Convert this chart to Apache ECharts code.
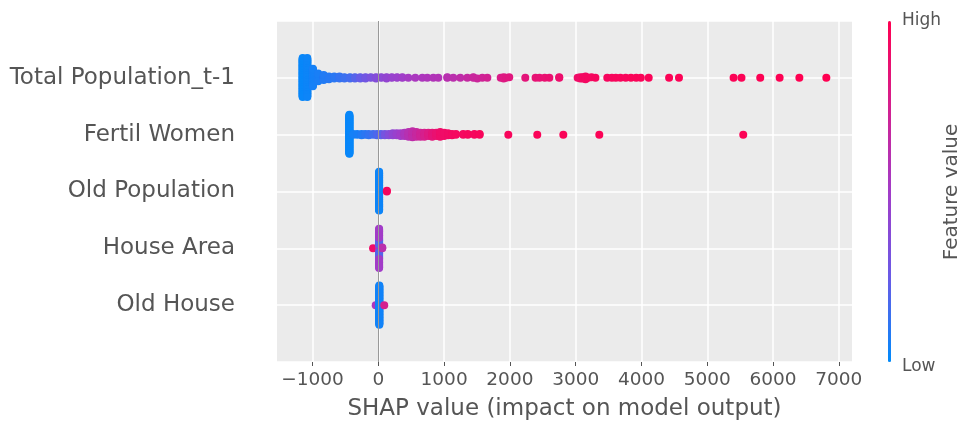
<!DOCTYPE html>
<html>
<head>
<meta charset="utf-8">
<script src="https://cdn.jsdelivr.net/npm/echarts@6/dist/echarts.min.js"></script>
<style>
  html, body { margin: 0; padding: 0; background: #fff; }
  #chart { width: 965px; height: 426px; }
</style>
</head>
<body>
<div id="chart"></div>
<script>
// features from bottom (row 0) to top (row 4)
const features = ['Old House', 'House Area', 'Old Population', 'Fertil Women', 'Total Population_t-1'];
const xTicks = [-1000, 0, 1000, 2000, 3000, 4000, 5000, 6000, 7000];

// each entry: [SHAP value, number of points, feature value 0..1]
const totalPopulation = [
  [-1150, 56, 0.02], [-1080, 56, 0.03], [-995, 26, 0.05], [-915, 12, 0.06],
  [-830, 8, 0.08], [-750, 5, 0.09], [-670, 4, 0.1], [-590, 4, 0.12],
  [-515, 3, 0.14], [-430, 3, 0.16], [-355, 3, 0.2], [-275, 3, 0.24],
  [-195, 3, 0.28], [-115, 2, 0.32], [-35, 3, 0.36], [45, 2, 0.4],
  [125, 3, 0.43], [205, 2, 0.45], [285, 2, 0.47], [365, 2, 0.49],
  [456, 1, 0.52], [562, 1, 0.54], [669, 1, 0.55], [745, 1, 0.56],
  [836, 1, 0.57], [912, 1, 0.58], [1049, 2, 0.61], [1140, 1, 0.62],
  [1246, 1, 0.64], [1353, 1, 0.67], [1444, 2, 0.69], [1505, 1, 0.7],
  [1581, 1, 0.72], [1657, 1, 0.74], [1860, 1, 0.78], [1905, 2, 0.8],
  [1940, 1, 0.81], [1990, 1, 0.82], [2234, 1, 0.84], [2390, 1, 0.86],
  [2450, 1, 0.86], [2530, 1, 0.87], [2600, 1, 0.88], [2750, 2, 0.89],
  [3030, 1, 0.91], [3070, 2, 0.91], [3110, 3, 0.93], [3150, 2, 0.93],
  [3190, 1, 0.94], [3240, 1, 0.94], [3300, 1, 0.95], [3480, 1, 0.95],
  [3550, 1, 0.95], [3610, 1, 0.96], [3680, 1, 0.96], [3760, 1, 0.96],
  [3840, 1, 0.97], [3920, 1, 0.97], [3990, 1, 0.97], [4110, 1, 0.97],
  [4420, 1, 0.98], [4570, 1, 0.98], [5400, 1, 0.98], [5520, 1, 0.98],
  [5805, 1, 0.99], [6100, 1, 0.99], [6400, 1, 1], [6810, 1, 1]
];
const fertilWomen = [
  [-440, 60, 0.02], [-380, 2, 0.05], [-320, 2, 0.06], [-255, 3, 0.08],
  [-200, 2, 0.1], [-145, 3, 0.12], [-80, 2, 0.15], [-20, 3, 0.18],
  [40, 3, 0.22], [100, 3, 0.3], [160, 3, 0.36], [220, 4, 0.42],
  [280, 4, 0.46], [340, 5, 0.5], [400, 6, 0.55], [460, 8, 0.6],
  [520, 10, 0.64], [580, 8, 0.68], [640, 7, 0.72], [700, 7, 0.76],
  [760, 6, 0.8], [820, 7, 0.84], [880, 6, 0.87], [940, 8, 0.9],
  [1000, 6, 0.91], [1060, 4, 0.92], [1120, 3, 0.93], [1180, 2, 0.94],
  [1290, 2, 0.94], [1360, 2, 0.95], [1460, 2, 0.95], [1540, 2, 0.96],
  [1976, 1, 0.96], [2416, 1, 0.97], [2812, 1, 0.97], [3359, 1, 0.98],
  [5547, 1, 0.98]
];
const oldPopulation = [
  [12, 56, 0.03], [130, 2, 0.95]
];
const houseArea = [
  [-80, 1, 0.9], [12, 9, 0.55], [12, 16, 0.2], [12, 24, 0.5], [60, 2, 0.62]
];
const oldHouse = [
  [-40, 1, 0.55], [15, 1, 0.5], [15, 52, 0.04], [90, 1, 0.75]
];
const rows = [oldHouse, houseArea, oldPopulation, fertilWomen, totalPopulation];

// beeswarm layout like shap: 100 bins per row, stack points alternately up/down
function swarm(row, pos) {
  const pts = [];
  row.forEach(function (d) {
    for (let i = 0; i < d[1]; i++) pts.push([d[0], d[2]]);
  });
  const vals = pts.map(p => p[0]);
  const lo = Math.min.apply(null, vals), hi = Math.max.apply(null, vals);
  const quant = pts.map(p => Math.round(100 * (p[0] - lo) / (hi - lo + 1e-8)));
  const order = pts.map((p, i) => i).sort((a, b) => quant[a] - quant[b] || a - b);
  const ys = new Array(pts.length).fill(0);
  let layer = 0, lastBin = -1;
  order.forEach(function (i) {
    if (quant[i] !== lastBin) layer = 0;
    ys[i] = Math.ceil(layer / 2) * ((layer % 2) * 2 - 1);
    layer++;
    lastBin = quant[i];
  });
  const top = Math.max.apply(null, ys.map(y => y + 1));
  return pts.map((p, i) => [p[0], pos + ys[i] * 0.9 * 0.4 / top, p[1]]);
}

let points = [];
rows.forEach(function (row, pos) { points = points.concat(swarm(row, pos)); });

const textColor = '#555555';
const chart = echarts.init(document.getElementById('chart'), null, { renderer: 'canvas' });
chart.setOption({
  animation: false,
  backgroundColor: '#ffffff',
  grid: {
    left: 277, right: 113, top: 21, bottom: 64,
    show: true, backgroundColor: '#ebebeb', borderWidth: 0
  },
  xAxis: {
    type: 'value', min: -1540, max: 7200,
    axisLine: { show: false, onZero: false },
    axisTick: { show: true, customValues: xTicks, length: 4, lineStyle: { color: '#555555' } },
    axisLabel: {
      customValues: xTicks, color: textColor, fontSize: 18.5, margin: 9,
      fontFamily: 'DejaVu Sans',
      formatter: v => (v < 0 ? '\u2212' + Math.abs(v) : String(v))
    },
    splitLine: { show: true, lineStyle: { color: '#ffffff', width: 1.5 } },
    name: 'SHAP value (impact on model output)',
    nameLocation: 'middle', nameGap: 36,
    nameTextStyle: { color: textColor, fontSize: 23, fontFamily: 'DejaVu Sans' }
  },
  yAxis: {
    type: 'value', min: -1, max: 5, interval: 1,
    axisLine: { show: false, onZero: false },
    axisTick: { show: false },
    axisLabel: {
      color: textColor, fontSize: 23, margin: 42, fontFamily: 'DejaVu Sans',
      formatter: v => (features[v] !== undefined ? features[v] : '')
    },
    splitLine: { show: true, lineStyle: { color: '#ffffff', width: 1.5 } }
  },
  visualMap: {
    type: 'continuous', show: true, dimension: 2, min: 0, max: 1,
    seriesIndex: 1, orient: 'vertical', left: 888, top: 21,
    itemWidth: 3, itemHeight: 341, padding: 0, calculable: false,
    text: null, showLabel: false, hoverLink: false,
    inRange: { color: ['#008bfb', '#6a5ae6', '#a23cc8', '#d4208f', '#ff0051'] }
  },
  graphic: [
    { type: 'text', left: 902, top: 12, style: { text: 'High', fill: textColor, font: '17px "DejaVu Sans"' } },
    { type: 'text', left: 902, top: 358, style: { text: 'Low', fill: textColor, font: '17px "DejaVu Sans"' } },
    {
      type: 'text', x: 952, y: 192, rotation: Math.PI / 2,
      style: { text: 'Feature value', fill: textColor, font: '20px "DejaVu Sans"', align: 'center', verticalAlign: 'middle' }
    }
  ],
  series: [
    {
      type: 'scatter', data: [], z: 1, silent: true,
      markLine: {
        silent: true, symbol: 'none', label: { show: false },
        lineStyle: { color: '#999999', width: 1, type: 'solid' },
        data: [{ xAxis: 0 }]
      }
    },
    {
      type: 'scatter', z: 2, symbol: 'circle', symbolSize: 8,
      itemStyle: { opacity: 1 },
      data: points
    }
  ]
});
</script>
</body>
</html>
